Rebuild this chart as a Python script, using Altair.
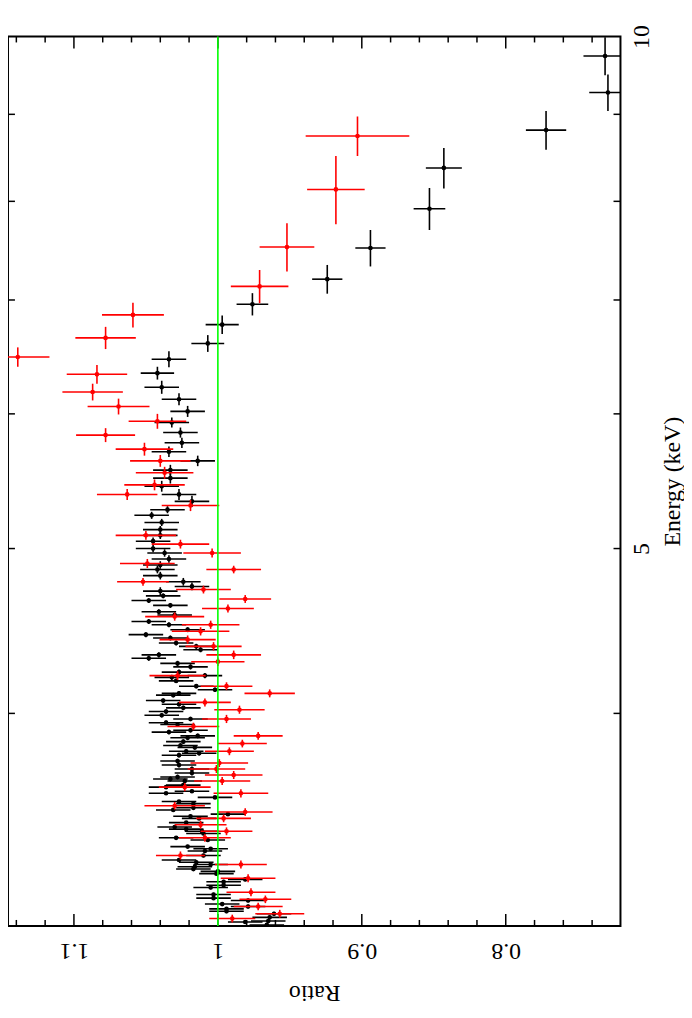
import altair as alt
import pandas as pd

# ---------------- data ----------------
black_energy = [9.74, 9.27, 8.81, 8.37, 7.92, 7.51, 7.20, 6.96, 6.77, 6.60,
                6.46, 6.34, 6.22, 6.12, 6.02, 5.93, 5.85, 5.77, 5.70, 5.63,
                5.56, 5.50, 5.44, 5.38, 5.33, 5.27, 5.23, 5.18, 5.13, 5.09,
                5.05, 5.00, 4.97, 4.93, 4.89, 4.86, 4.82, 4.78, 4.75, 4.72,
                4.69, 4.66, 4.63, 4.59, 4.57, 4.53, 4.51, 4.48, 4.45, 4.43,
                4.40, 4.38, 4.36, 4.33, 4.31, 4.28, 4.26, 4.23, 4.21, 4.20,
                4.18, 4.15, 4.13, 4.11, 4.10, 4.07, 4.05, 4.03, 4.01, 3.99,
                3.97, 3.95, 3.94, 3.91, 3.90, 3.88, 3.87, 3.85, 3.83, 3.82,
                3.80, 3.79, 3.78, 3.75, 3.73, 3.71, 3.69, 3.67, 3.66, 3.65,
                3.63, 3.62, 3.60, 3.59, 3.57, 3.55, 3.54, 3.52, 3.51, 3.49,
                3.48, 3.47, 3.45, 3.43, 3.42, 3.41, 3.40, 3.38, 3.37, 3.34,
                3.33, 3.32, 3.30, 3.28, 3.27, 3.26, 3.25, 3.24, 3.23, 3.22,
                3.195, 3.185, 3.17, 3.16, 3.13, 3.115, 3.105, 3.09, 3.08, 3.07,
                3.06, 3.05, 3.035, 3.02, 3.016, 3.004]
black_ratio = [0.731, 0.729, 0.772, 0.843, 0.853, 0.894, 0.924, 0.976, 0.997, 1.007,
               1.034, 1.042, 1.039, 1.027, 1.021, 1.032, 1.026, 1.025, 1.034, 1.014,
               1.033, 1.033, 1.039, 1.027, 1.018, 1.035, 1.046, 1.039, 1.040, 1.040,
               1.045, 1.045, 1.037, 1.034, 1.040, 1.042, 1.040, 1.024, 1.018, 1.040,
               1.038, 1.048, 1.033, 1.041, 1.030, 1.048, 1.034, 1.021, 1.050, 1.033,
               1.029, 1.015, 1.012, 1.041, 1.048, 1.028, 1.019, 1.027, 1.009, 1.032,
               1.029, 1.015, 1.002, 1.027, 1.031, 1.038, 1.027, 1.024, 1.036, 1.039,
               1.019, 1.036, 1.028, 1.019, 1.034, 1.014, 1.021, 1.024, 1.026, 1.016,
               1.022, 1.013, 1.027, 1.028, 1.027, 1.018, 1.018, 1.028, 1.033, 1.023,
               1.024, 1.036, 1.018, 1.036, 1.002, 1.027, 1.017, 1.017, 1.031, 0.993,
               1.019, 1.013, 1.022, 1.030, 1.022, 1.011, 1.010, 1.029, 1.007, 1.021,
               1.005, 1.009, 1.010, 1.027, 1.015, 1.005, 1.016, 1.017, 1.000, 1.001,
               0.981, 0.996, 0.996, 1.005, 1.003, 1.003, 0.979, 0.997, 0.979, 0.994,
               0.994, 0.961, 0.964, 0.965, 0.981, 0.966]
black_ratio_err = [0.015, 0.013, 0.014, 0.0125, 0.011, 0.0105, 0.0105, 0.011, 0.0115, 0.0114,
                   0.012, 0.0116, 0.012, 0.012, 0.012, 0.012, 0.012, 0.012, 0.012, 0.012,
                   0.012, 0.012, 0.012, 0.012, 0.012, 0.012, 0.012, 0.012, 0.012, 0.012,
                   0.012, 0.012, 0.012, 0.012, 0.012, 0.012, 0.012, 0.012, 0.012, 0.012,
                   0.012, 0.012, 0.012, 0.012, 0.012, 0.012, 0.012, 0.012, 0.012, 0.012,
                   0.012, 0.012, 0.012, 0.012, 0.012, 0.012, 0.012, 0.012, 0.012, 0.012,
                   0.012, 0.012, 0.012, 0.012, 0.012, 0.012, 0.012, 0.012, 0.012, 0.012,
                   0.012, 0.012, 0.012, 0.012, 0.012, 0.012, 0.012, 0.012, 0.012, 0.012,
                   0.012, 0.012, 0.012, 0.012, 0.012, 0.012, 0.012, 0.012, 0.012, 0.012,
                   0.012, 0.012, 0.012, 0.012, 0.012, 0.012, 0.012, 0.012, 0.012, 0.012,
                   0.012, 0.012, 0.012, 0.012, 0.012, 0.012, 0.012, 0.012, 0.012, 0.012,
                   0.012, 0.012, 0.012, 0.012, 0.012, 0.012, 0.012, 0.012, 0.012, 0.012,
                   0.012, 0.012, 0.012, 0.012, 0.012, 0.012, 0.012, 0.012, 0.012, 0.012,
                   0.012, 0.012, 0.012, 0.012, 0.012, 0.012]
black_energy_err = [0.25, 0.23, 0.23, 0.23, 0.225, 0.185, 0.14, 0.105, 0.085, 0.075,
                    0.07, 0.055, 0.055, 0.05, 0.045, 0.04, 0.04, 0.04, 0.04, 0.04,
                    0.04, 0.04, 0.04, 0.04, 0.04, 0.025, 0.025, 0.025, 0.025, 0.025,
                    0.025, 0.025, 0.025, 0.025, 0.025, 0.025, 0.025, 0.025, 0.025, 0.025,
                    0.015, 0.015, 0.015, 0.015, 0.015, 0.015, 0.015, 0.015, 0.015, 0.015,
                    0.015, 0.015, 0.015, 0.015, 0.015, 0.015, 0.015, 0.015, 0.015, 0.015,
                    0.012, 0.012, 0.012, 0.012, 0.012, 0.012, 0.012, 0.012, 0.012, 0.012,
                    0.012, 0.012, 0.012, 0.012, 0.012, 0.012, 0.012, 0.012, 0.012, 0.012,
                    0.012, 0.012, 0.012, 0.012, 0.012, 0.012, 0.012, 0.012, 0.012, 0.012,
                    0.008, 0.008, 0.008, 0.008, 0.008, 0.008, 0.008, 0.008, 0.008, 0.008,
                    0.008, 0.008, 0.008, 0.008, 0.008, 0.008, 0.008, 0.008, 0.008, 0.008,
                    0.008, 0.008, 0.008, 0.008, 0.008, 0.008, 0.008, 0.008, 0.008, 0.008,
                    0.008, 0.008, 0.008, 0.008, 0.008, 0.008, 0.008, 0.008, 0.008, 0.008,
                    0.008, 0.008, 0.008, 0.008, 0.008, 0.008]

red_energy = [8.74, 8.13, 7.52, 7.13, 6.86, 6.65, 6.48, 6.33, 6.18, 6.06,
              5.94, 5.83, 5.72, 5.63, 5.54, 5.45, 5.38, 5.30, 5.09, 5.03,
              4.97, 4.90, 4.86, 4.78, 4.73, 4.67, 4.61, 4.56, 4.51, 4.47,
              4.42, 4.38, 4.33, 4.29, 4.21, 4.15, 4.11, 4.06, 4.02, 3.97,
              3.93, 3.88, 3.84, 3.80, 3.74, 3.71, 3.68, 3.65, 3.62, 3.59,
              3.53, 3.50, 3.47, 3.44, 3.41, 3.38, 3.30, 3.26, 3.20, 3.14,
              3.11, 3.08, 3.05, 3.03]
red_ratio = [0.903, 0.918, 0.952, 0.971, 1.059, 1.078, 1.139, 1.084, 1.087, 1.069,
             1.042, 1.078, 1.051, 1.040, 1.037, 1.044, 1.063, 1.019, 1.050, 1.026,
             1.004, 1.049, 0.989, 1.052, 1.010, 0.981, 0.993, 1.030, 1.005, 1.012,
             1.021, 1.003, 0.989, 1.000, 1.028, 0.994, 0.964, 1.009, 0.985, 0.994,
             1.017, 0.972, 0.983, 0.992, 0.999, 1.001, 0.989, 0.997, 1.023, 0.984,
             1.030, 0.981, 0.996, 1.012, 0.994, 1.009, 1.026, 0.984, 0.979, 0.977,
             0.967, 0.972, 0.957, 0.990]
red_ratio_err = [0.036, 0.020, 0.019, 0.020, 0.0215, 0.021, 0.022, 0.021, 0.021, 0.0215,
                 0.020, 0.0205, 0.020, 0.021, 0.020, 0.021, 0.021, 0.020, 0.021, 0.020,
                 0.020, 0.019, 0.019, 0.018, 0.019, 0.018, 0.018, 0.0205, 0.020, 0.020,
                 0.0195, 0.0195, 0.019, 0.0185, 0.0195, 0.018, 0.0175, 0.018, 0.0175, 0.017,
                 0.018, 0.017, 0.017, 0.017, 0.020, 0.020, 0.020, 0.0195, 0.018, 0.019,
                 0.021, 0.019, 0.019, 0.018, 0.018, 0.018, 0.017, 0.018, 0.019, 0.017,
                 0.018, 0.017, 0.017, 0.016]
red_energy_err = [0.235, 0.375, 0.245, 0.16, 0.115, 0.10, 0.085, 0.08, 0.07, 0.065,
                  0.06, 0.055, 0.05, 0.045, 0.045, 0.04, 0.04, 0.04, 0.03, 0.03,
                  0.03, 0.03, 0.025, 0.025, 0.025, 0.025, 0.025, 0.025, 0.025, 0.025,
                  0.025, 0.025, 0.025, 0.025, 0.025, 0.022, 0.022, 0.022, 0.022, 0.022,
                  0.02, 0.02, 0.02, 0.02, 0.02, 0.02, 0.02, 0.02, 0.02, 0.02,
                  0.018, 0.018, 0.018, 0.018, 0.018, 0.018, 0.018, 0.018, 0.017, 0.017,
                  0.016, 0.016, 0.016, 0.016]

ratio_major_ticks = [0.8, 0.9, 1.0, 1.1]
ratio_minor_ticks = [0.74, 0.76, 0.78, 0.82, 0.84, 0.86, 0.88, 0.92, 0.94, 0.96,
                     0.98, 1.02, 1.04, 1.06, 1.08, 1.12, 1.14]
energy_ticks = [4, 5, 6, 7, 8, 9]
energy_labels = [5, 10]
model_ratio = [1.0]

# ---------------- layout ----------------
W, H = 617, 896
FONT = "Liberation Serif"
RATIO_DOMAIN = [0.7203, 1.1458]
ENERGY_DOMAIN = [3, 10]

xscale = alt.Scale(domain=RATIO_DOMAIN, reverse=True, nice=False, zero=False)
yscale = alt.Scale(type="log", domain=ENERGY_DOMAIN, nice=False, zero=False)


def series_frame(e, r, rerr, eerr):
    return pd.DataFrame({
        "E": e, "R": r,
        "Rlo": [a - b for a, b in zip(r, rerr)],
        "Rhi": [a + b for a, b in zip(r, rerr)],
        "Elo": [a - b for a, b in zip(e, eerr)],
        "Ehi": [a + b for a, b in zip(e, eerr)],
    })


black_df = series_frame(black_energy, black_ratio, black_ratio_err, black_energy_err)
red_df = series_frame(red_energy, red_ratio, red_ratio_err, red_energy_err)

x_axis = alt.Axis(orient="bottom", values=ratio_major_ticks, format="~g", ticks=False,
                  domain=False, grid=False, labelAngle=180, labelBaseline="bottom",
                  labelAlign="center", labelFont=FONT, labelFontSize=24,
                  labelColor="black", labelPadding=13, labelFlush=False,
                  title="Ratio", titleAngle=180, titleBaseline="bottom",
                  titleFont=FONT, titleFontSize=24, titleFontWeight="normal",
                  titleColor="black", titlePadding=18)
y_axis = alt.Axis(orient="right", values=energy_labels, format="~g", ticks=False,
                  domain=False, grid=False, labelAngle=270, labelBaseline="top",
                  labelAlign="center", labelFont=FONT, labelFontSize=24,
                  labelColor="black", labelPadding=9, labelFlush=False,
                  title="Energy (keV)", titleAngle=270, titleBaseline="top",
                  titleFont=FONT, titleFontSize=24, titleFontWeight="normal",
                  titleColor="black", titlePadding=7)


def X(field):
    return alt.X(field, type="quantitative", scale=xscale, axis=x_axis, title="Ratio")


def Y(field):
    return alt.Y(field, type="quantitative", scale=yscale, axis=y_axis, title="Energy (keV)")


def series_layers(df, color):
    base = alt.Chart(df)
    hbar = base.mark_rule(color=color, strokeWidth=1.6, clip=True).encode(
        x=X("Rlo"), x2="Rhi:Q", y=Y("E"))
    vbar = base.mark_rule(color=color, strokeWidth=1.6, clip=True).encode(
        x=X("R"), y=Y("Elo"), y2="Ehi:Q")
    pts = base.mark_circle(color=color, size=22, opacity=1, clip=True).encode(
        x=X("R"), y=Y("E"))
    return [hbar, vbar, pts]


major_df = pd.DataFrame({"R": ratio_major_ticks})
minor_df = pd.DataFrame({"R": ratio_minor_ticks})
etick_df = pd.DataFrame({"E": energy_ticks})
model_df = pd.DataFrame({"R": model_ratio})

tick_layers = []
for df, ln in ((major_df, 12), (minor_df, 6)):
    tick_layers.append(alt.Chart(df).mark_rule(color="black", strokeWidth=1.5).encode(
        x=X("R"), y=alt.value(H), y2=alt.value(H - ln)))
    tick_layers.append(alt.Chart(df).mark_rule(color="black", strokeWidth=1.5).encode(
        x=X("R"), y=alt.value(0), y2=alt.value(ln)))
tick_layers.append(alt.Chart(etick_df).mark_rule(color="black", strokeWidth=1.5).encode(
    y=Y("E"), x=alt.value(W), x2=alt.value(W - 7)))
tick_layers.append(alt.Chart(etick_df).mark_rule(color="black", strokeWidth=1.5).encode(
    y=Y("E"), x=alt.value(0), x2=alt.value(7)))

model_line = alt.Chart(model_df).mark_rule(color="#00ff00", strokeWidth=1.6).encode(
    x=X("R"), y=alt.value(0), y2=alt.value(H))

layers = tick_layers + series_layers(black_df, "black") + \
    series_layers(red_df, "red") + [model_line]

chart = alt.layer(*layers).properties(
    width=W, height=H,
    autosize=alt.AutoSizeParams(type="none"),
    padding={"left": 0, "top": 25, "right": 64, "bottom": 81},
    background="white",
).configure_view(stroke="black", strokeWidth=2)

chart.save("out.html", embed_options={"renderer": "svg", "actions": False})
